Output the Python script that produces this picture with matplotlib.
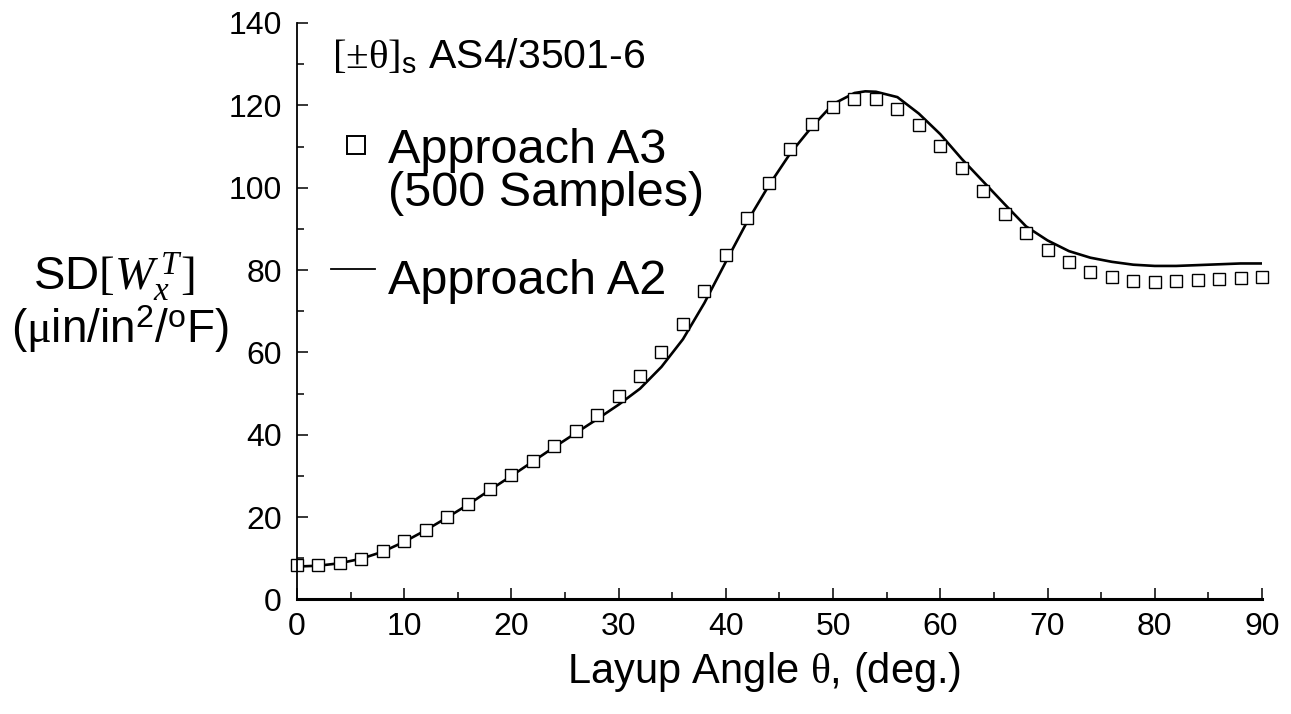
import matplotlib
matplotlib.use("Agg")
import matplotlib.pyplot as plt
import numpy as np

plt.rcParams['font.family'] = ['Liberation Sans', 'DejaVu Sans']
plt.rcParams['mathtext.fontset'] = 'custom'
plt.rcParams['mathtext.rm'] = 'Liberation Serif'
plt.rcParams['mathtext.it'] = 'Liberation Serif:italic'
plt.rcParams['mathtext.sf'] = 'Liberation Sans'

# Approach A3: Monte Carlo, 500 samples (every 2 deg)
angle_a3 = np.arange(0, 91, 2)
sd_a3 = [8.3, 8.4, 8.9, 9.9, 11.7, 14.1, 16.8, 20.0, 23.2, 26.8,
         30.2, 33.7, 37.2, 40.9, 44.9, 49.3, 54.2, 60.1, 67.0, 75.0,
         83.6, 92.6, 101.2, 109.3, 115.5, 119.7, 121.6, 121.5, 119.1, 115.3,
         110.2, 104.7, 99.1, 93.6, 88.9, 84.9, 81.9, 79.6, 78.2, 77.4,
         77.2, 77.3, 77.5, 77.8, 78.1, 78.3]

# Approach A2: analytical curve
angle_a2 = [0, 2, 4, 6, 8, 10, 12, 14, 16, 18, 20, 22, 24, 26, 28, 30,
            32, 34, 36, 38, 40, 42, 44, 46, 48, 50, 52, 53, 54, 56, 58,
            60, 62, 64, 66, 68, 70, 72, 74, 76, 78, 80, 82, 84, 86, 88, 90]
sd_a2 = [8.0, 8.2, 8.8, 9.9, 11.6, 14.0, 16.8, 19.9, 23.1, 26.6, 30.0,
         33.5, 37.0, 40.4, 43.8, 47.3, 51.2, 56.5, 63.2, 72.0, 82.0,
         91.8, 100.5, 108.3, 114.7, 120.3, 123.0, 123.4, 123.3, 122.0, 118.0,
         113.0, 107.0, 101.5, 96.0, 90.6, 87.2, 84.6, 83.0, 82.0, 81.3,
         81.0, 81.0, 81.2, 81.4, 81.6, 81.6]

fig = plt.figure(figsize=(12.91, 7.14), dpi=100)
ax = fig.add_axes([0.230, 0.1604, 0.7475, 0.8074])

ax.plot(angle_a2, sd_a2, color='black', lw=1.9)
ax.plot(angle_a3, sd_a3, ls='none', marker='s', ms=8, mfc='white',
        mec='black', mew=1.0, clip_on=False)

ax.set_xlim(0, 90)
ax.set_ylim(0, 140)
ax.set_xticks(np.arange(0, 91, 10))
ax.set_xticks(np.arange(0, 91, 5), minor=True)
ax.set_yticks(np.arange(0, 141, 20))
ax.set_yticks(np.arange(0, 141, 10), minor=True)

for s in ['top', 'right']:
    ax.spines[s].set_visible(False)
ax.spines['bottom'].set_linewidth(2.2)
ax.spines['left'].set_linewidth(1.3)

ax.tick_params(which='both', direction='in', labelsize=23, width=1.1)
ax.tick_params(which='major', length=8)
ax.tick_params(which='minor', length=5)
ax.tick_params(axis='x', pad=9)
ax.tick_params(axis='y', pad=11)

ax.set_xlabel(r'Layup Angle $\mathrm{\theta}$, (deg.)', fontsize=30)
ax.xaxis.set_label_coords(0.484, -0.088)

# y label drawn horizontally to the left of the axis
ax.text(-0.19, 0.536, r'SD$[W_x^{\,T}]$', transform=ax.transAxes,
        fontsize=34, ha='center', va='baseline')
ax.text(-0.183, 0.445, r'($\mathrm{\mu}$in/in$^{\mathsf{2}}$/$^{\mathsf{o}}$F)',
        transform=ax.transAxes, fontsize=33, ha='center', va='baseline')

# case label
ax.text(0.036, 0.922, r'$\mathrm{[\pm\theta]}_{\mathsf{s}}$ AS4/3501-6',
        transform=ax.transAxes, fontsize=29.5, ha='left', va='baseline')

# legend keys and labels
ax.plot([0.061], [0.789], transform=ax.transAxes, ls='none', marker='s',
        ms=13, mfc='white', mec='black', mew=1.4, clip_on=False)
ax.text(0.094, 0.757, 'Approach A3', transform=ax.transAxes,
        fontsize=35, ha='left', va='baseline')
ax.text(0.094, 0.683, '(500 Samples)', transform=ax.transAxes,
        fontsize=35, ha='left', va='baseline')
ax.plot([0.035, 0.081], [0.573, 0.573], transform=ax.transAxes,
        color='black', lw=1.3, clip_on=False)
ax.text(0.094, 0.530, 'Approach A2', transform=ax.transAxes,
        fontsize=35, ha='left', va='baseline')

fig.savefig('out.png', dpi=100)
